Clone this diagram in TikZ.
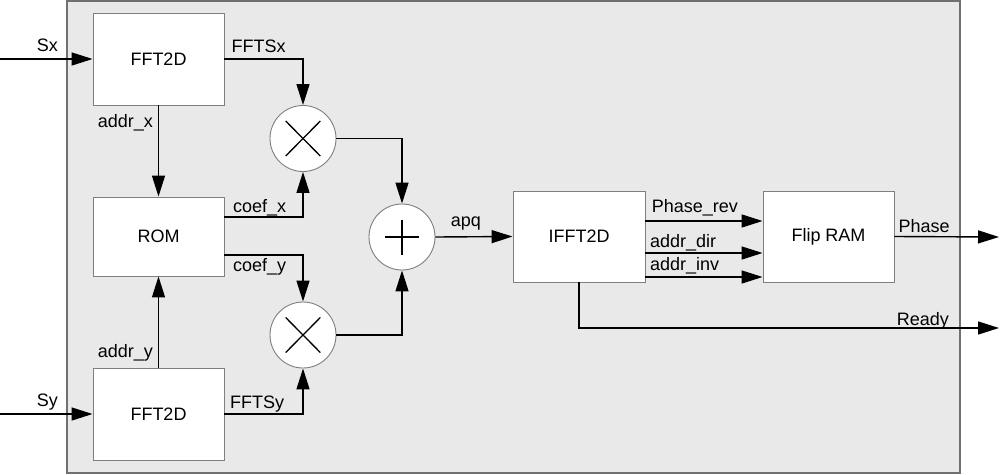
\documentclass[tikz,border=0pt]{standalone}
\usepackage{fontspec}
\setmainfont{Liberation Sans}
\usetikzlibrary{arrows.meta,calc}
\definecolor{panelgray}{HTML}{E9E9E9}
\definecolor{panelline}{HTML}{707070}
\definecolor{boxline}{HTML}{7F7F7F}
\begin{document}
\begin{tikzpicture}[x=1pt,y=-1pt,
  font=\fontsize{18}{21}\selectfont,
  blockbox/.style={draw=boxline,line width=0.9pt,fill=white,inner sep=0pt,
    minimum width=131pt,minimum height=92pt},
  opcircle/.style={circle,draw=boxline,line width=0.9pt,fill=white,inner sep=0pt,minimum size=66pt},
  wire/.style={line width=1.4pt,-{Triangle[length=21pt,width=13pt]}},
  plainwire/.style={line width=1.4pt},
  sign/.style={line width=1.3pt},
  lbl/.style={anchor=base west,inner sep=0pt}]
\useasboundingbox (0,0) rectangle (1000,474);
\draw[fill=panelgray,draw=panelline,line width=1.6pt] (67,1) rectangle (960,473);

% blocks
\node[blockbox] (fftx) at (158.5,59) {FFT2D};
\node[blockbox,minimum height=79pt] (rom) at (158.5,236.5) {ROM};
\node[blockbox] (ffty) at (158.5,414) {FFT2D};
\node[blockbox,minimum width=132pt,minimum height=91pt] (ifft) at (579,236.5) {IFFT2D};
\node[blockbox,minimum height=91pt] (flip) at (828.5,236.5) {Flip RAM};

% operators
\node[opcircle] (mx) at (303,138.5) {};
\node[opcircle] (my) at (303,335) {};
\node[opcircle] (add) at (402,237) {};
\draw[sign] ([shift={(-17.3,-17.5)}]mx.center) -- ([shift={(17.3,17.5)}]mx.center);
\draw[sign] ([shift={(-17.3,17.5)}]mx.center) -- ([shift={(17.3,-17.5)}]mx.center);
\draw[sign] ([shift={(-17.3,-17.5)}]my.center) -- ([shift={(17.3,17.5)}]my.center);
\draw[sign] ([shift={(-17.3,17.5)}]my.center) -- ([shift={(17.3,-17.5)}]my.center);
\draw[sign] ([shift={(-17,0)}]add.center) -- ([shift={(17,0)}]add.center);
\draw[sign] ([shift={(0,-17.5)}]add.center) -- ([shift={(0,17.5)}]add.center);

% free ends
\coordinate (sxin) at (0,59);
\coordinate (syin) at (0,414);
\coordinate (phaseout) at (999,237);
\coordinate (readyout) at (999,328);

% connectors
\draw[wire] (sxin) -- (fftx.west);
\draw[wire] (syin) -- (ffty.west);
\draw[wire] (fftx.south) -- (rom.north);
\draw[wire] (ffty.north) -- (rom.south);
\draw[wire] (fftx.east) -| (mx.north);
\draw[wire] ([yshift=19.5pt]rom.east) -| (mx.south);
\draw[wire] ([yshift=-18.5pt]rom.east) -| (my.north);
\draw[wire] (ffty.east) -| (my.south);
\draw[wire] (mx.east) -| (add.north);
\draw[wire] (my.east) -| (add.south);
\draw[wire] (add.east) -- (ifft.west);
\draw[wire] ([yshift=15.5pt]ifft.east) -- ([yshift=15.5pt]flip.west);
\draw[wire] ([yshift=-16.5pt]ifft.east) -- ([yshift=-16.5pt]flip.west);
\draw[wire] ([yshift=-40.5pt]ifft.east) -- ([yshift=-40.5pt]flip.west);
\draw[wire] (flip.east) -- (phaseout);
\draw[wire] (ifft.south) |- (readyout);

% labels
\node[lbl] (lsx) at (36.7,51.7) {Sx};
\node[lbl] (lsy) at (36.7,406.7) {Sy};
\node[lbl] (lfftsx) at (231.5,52) {FFTSx};
\node[lbl] (lfftsy) at (230,408.3) {FFTSy};
\node[lbl] (laddrx) at (97.7,127.5) {addr\_x};
\node[lbl] (laddry) at (97.7,357.3) {addr\_y};
\node[lbl] (lcoefx) at (233,212.7) {coef\_x};
\node[lbl] (lcoefy) at (233,271.7) {coef\_y};
\node[lbl] (lapq) at (450.7,226) {apq};
\node[lbl] (lprev) at (651.7,212.3) {Phase\_rev};
\node[lbl] (ldir) at (650,247.7) {addr\_dir};
\node[lbl] (linv) at (650,270.7) {addr\_inv};
\node[lbl] (lphase) at (898.3,232.3) {Phase};
\node[lbl] (lready) at (896.7,325) {Ready};
\end{tikzpicture}
\end{document}
